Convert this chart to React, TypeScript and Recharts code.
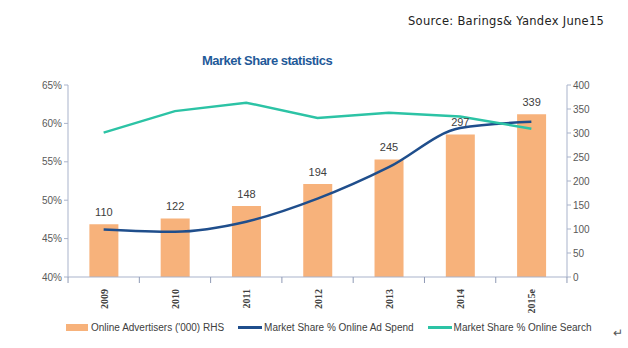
import { ComposedChart, Bar, Line, XAxis, YAxis, Legend, LabelList } from 'recharts';

const years = ['2009', '2010', '2011', '2012', '2013', '2014', '2015e'];
const advertisers = [110, 122, 148, 194, 245, 297, 339];
const adSpendShare = [46.2, 45.9, 47.2, 50.2, 54.3, 59.4, 60.2];
const searchShare = [58.8, 61.6, 62.7, 60.7, 61.4, 60.9, 59.3];
const leftTicks = [40, 45, 50, 55, 60, 65];
const rightTicks = [0, 50, 100, 150, 200, 250, 300, 350, 400];

const data = years.map((y, i) => ({
    year: y,
    advertisers: advertisers[i],
    adSpend: adSpendShare[i],
    search: searchShare[i],
}));

const axisColor = '#a9b3cb';
const tickFont = { fontSize: 10, fill: '#595959', fontFamily: 'Liberation Sans' };

function YearTick(props: any) {
    const { x, y, payload, index } = props;
    const half = 35.6;
    return (
        <g>
            <line x1={x - half} x2={x - half} y1={y - 8} y2={y - 2} stroke="#8f9ab5" strokeWidth={1} />
            {index === years.length - 1 && (
                <line x1={x + half} x2={x + half} y1={y - 8} y2={y - 2} stroke="#8f9ab5" strokeWidth={1} />
            )}
            <text x={x} y={y + 4} transform={`rotate(-90, ${x}, ${y + 4})`} textAnchor="end" dy={4}
                fontSize={10} fontWeight="bold" fontFamily="Liberation Serif" fill="#404040">
                {payload.value}
            </text>
        </g>
    );
}

function ChartLegend() {
    const item = { display: 'flex', alignItems: 'center', marginRight: 14 };
    return (
        <div style={{ display: 'flex', fontSize: 10, color: '#404040', fontFamily: 'Liberation Sans', paddingLeft: 56 }}>
            <div style={item}>
                <span style={{ width: 22, height: 7, background: '#f7b27b', marginRight: 3 }} />
                Online Advertisers ('000) RHS
            </div>
            <div style={item}>
                <span style={{ width: 24, height: 3, background: '#1f4e8c', marginRight: 2 }} />
                Market Share % Online Ad Spend
            </div>
            <div style={item}>
                <span style={{ width: 24, height: 3, background: '#2cc3a5', marginRight: 2 }} />
                Market Share % Online Search
            </div>
        </div>
    );
}

export default function App() {
    return (
        <div style={{ position: 'absolute', left: 0, top: 0, width: 628, height: 348, background: '#fff' }}>
            <div style={{ position: 'absolute', left: 408, top: 14, fontSize: 11.5, fontFamily: 'DejaVu Sans', letterSpacing: 0.3, color: '#222' }}>
                Source: Barings&amp; Yandex June15
            </div>
            <div style={{ position: 'absolute', left: 202, top: 53, fontSize: 13, fontWeight: 'bold', fontFamily: 'Liberation Sans Narrow, Liberation Sans', color: '#1f5a99', letterSpacing: -0.5 }}>
                Market Share statistics
            </div>
            <div style={{ position: 'absolute', left: 613, top: 326, fontSize: 12, color: '#555' }}>↵</div>
            <ComposedChart width={628} height={348} data={data} barCategoryGap="30%"
                margin={{ top: 85, right: 20, left: 10, bottom: 0 }}>
                <XAxis dataKey="year" height={45} stroke={axisColor} tickLine={false} tick={<YearTick />} interval={0} />
                <YAxis yAxisId="left" width={58} domain={[40, 65]} ticks={leftTicks} stroke={axisColor}
                    tickSize={4} tick={tickFont} tickFormatter={(v: number) => `${v}%`} />
                <YAxis yAxisId="right" orientation="right" width={41} domain={[0, 400]} ticks={rightTicks}
                    stroke={axisColor} tickSize={4} tick={tickFont} />
                <Legend verticalAlign="bottom" height={26} content={<ChartLegend />} />
                <Bar yAxisId="right" dataKey="advertisers" fill="#f7b27b" isAnimationActive={false}>
                    <LabelList dataKey="advertisers" position="top" offset={8} style={{ fontSize: 11, fill: '#404040', fontFamily: 'Liberation Sans' }} />
                </Bar>
                <Line yAxisId="left" type="monotone" dataKey="adSpend" stroke="#1f4e8c" strokeWidth={2.5} dot={false} isAnimationActive={false} />
                <Line yAxisId="left" type="linear" dataKey="search" stroke="#2cc3a5" strokeWidth={2.5} dot={false} isAnimationActive={false} />
            </ComposedChart>
        </div>
    );
}
